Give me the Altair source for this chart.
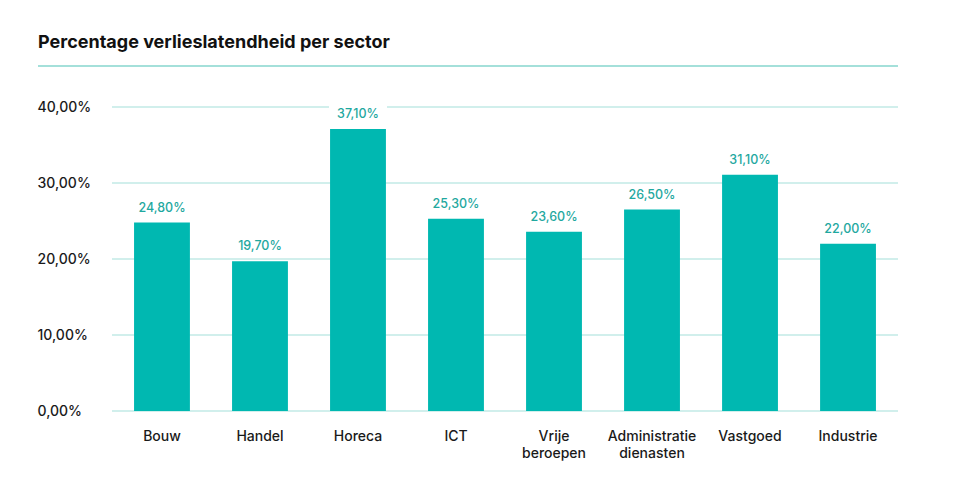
import altair as alt
import pandas as pd

sectors = ["Bouw", "Handel", "Horeca", "ICT", "Vrije beroepen",
           "Administratie dienasten", "Vastgoed", "Industrie"]
values = [24.8, 19.7, 37.1, 25.3, 23.6, 26.5, 31.1, 22.0]
y_ticks = [0, 10, 20, 30, 40]

df = pd.DataFrame({"sector": sectors, "value": values})
df["label"] = [f"{v:.2f}".replace(".", ",") + "%" for v in values]
grid_df = pd.DataFrame({"value": y_ticks})

FONT = "Inter"
TEAL = "#00B8B1"
GRID = "#A4DFD9"

x_enc = alt.X("sector:N", sort=sectors,
              scale=alt.Scale(paddingInner=0.43, paddingOuter=0.225),
              axis=alt.Axis(title=None, labelAngle=0, domain=False, ticks=False,
                            labelPadding=18, labelLineHeight=17,
                            labelExpr="split(datum.label, ' ')"))
y_scale = alt.Scale(domain=[0, 40], nice=False)
y_enc = alt.Y("value:Q", scale=y_scale,
              axis=alt.Axis(title=None, values=y_ticks, domain=False, ticks=False,
                            grid=False, labelAlign="left", labelPadding=75,
                            labelExpr="replace(format(datum.value, '.2f'), '.', ',') + '%'"))

grid = alt.Chart(grid_df).mark_rule(color=GRID, strokeWidth=1.2).encode(
    y=alt.Y("value:Q", scale=y_scale), x=alt.value(0), x2=alt.value(786))

base = alt.Chart(df)

bars = base.mark_bar(color=TEAL).encode(x=x_enc, y=y_enc)

masks = base.mark_tick(color="white", opacity=1, thickness=18, size=58, yOffset=-15).encode(
    x=alt.X("sector:N", sort=sectors), y="value:Q")

labels = base.mark_text(color="#1FA89F", font=FONT, fontSize=12.5, fontWeight=500,
                        baseline="middle", dy=-15).encode(
    x=alt.X("sector:N", sort=sectors), y="value:Q", text="label:N")

top_rule = base.mark_rule(color=GRID, strokeWidth=1.2).encode(
    x=alt.value(-74), x2=alt.value(786), y=alt.value(-41))

chart = alt.layer(grid, bars, masks, labels, top_rule).properties(
    width=786, height=304,
    autosize=alt.AutoSizeParams(type="none"),
    padding={"left": 104, "top": 99, "right": 54, "bottom": 61},
    title=alt.TitleParams("Percentage verlieslatendheid per sector", anchor="start",
                          frame="group", dx=-74, offset=13, font=FONT, fontSize=18,
                          fontWeight=700, color="#111111"),
).configure(background="white").configure_view(stroke=None).configure_axis(
    grid=False, labelFont=FONT, labelFontSize=14,
    labelFontWeight=500, labelColor="#1a1a1a")

chart.save("out.html", embed_options={"renderer": "svg", "actions": False})
